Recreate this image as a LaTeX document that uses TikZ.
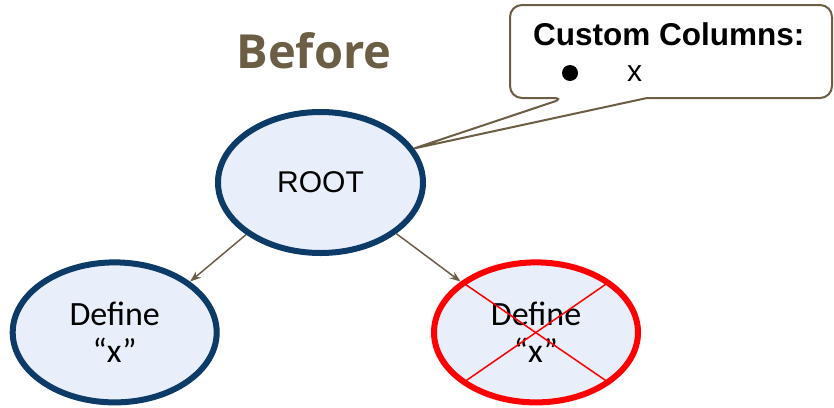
\documentclass[tikz,border=0pt]{standalone}
\usepackage{fontspec}
\setmainfont{Liberation Sans}
\newfontfamily\headfont{Open Sans}
\newfontfamily\labelfont{Carlito}
\usetikzlibrary{shapes.geometric,arrows.meta,calc}

\definecolor{treeblue}{HTML}{0B3B66}
\definecolor{treefill}{HTML}{E8EEFA}
\definecolor{taupe}{HTML}{6B5E45}
\definecolor{crossred}{HTML}{FF0000}

\tikzset{
  treenode/.style={ellipse, draw=treeblue, fill=treefill, line width=6pt,
    inner sep=0pt, minimum width=204pt, minimum height=140pt, align=center},
  deadnode/.style={treenode, draw=crossred},
  edgearrow/.style={draw=taupe, line width=1.5pt,
    -{Stealth[length=11pt, width=8pt]}},
  calloutline/.style={draw=taupe, line width=2pt, fill=white, rounded corners=12pt},
}

\begin{document}
\begin{tikzpicture}[x=1pt, y=-1pt]
  \useasboundingbox (0,0) rectangle (834,407);

  % heading
  \node[anchor=base, font=\headfont\bfseries\fontsize{47}{50}\selectfont, text=taupe]
    (title) at (314,68) {Before};

  % tree
  \node[treenode, minimum width=205pt, minimum height=141pt,
        font=\fontsize{30}{34}\selectfont] (root) at (320.5,182.5) {ROOT};
  \node[treenode, font=\labelfont\fontsize{34}{37}\selectfont]
    (left) at (114.7,332.4) {Define\\“x”};
  \node[deadnode, font=\labelfont\fontsize{34}{37}\selectfont]
    (right) at (536,332.4) {Define\\“x”};

  \draw[edgearrow] (root.215) -- (left.34);
  \draw[edgearrow] (root.-34) -- (right.146);

  % strike-through cross on the removed node
  \draw[crossred, line width=1.5pt]
    ($(right.center)+(-72,-49)$) -- ($(right.center)+(71,49)$);
  \draw[crossred, line width=1.5pt]
    ($(right.center)+(71,-49)$) -- ($(right.center)+(-71,49)$);

  % callout with its tail pointing at the root
  \coordinate (tip) at (root.20);
  \draw[calloutline]
    (565,98) [sharp corners]-- (tip) -- (647,98) [rounded corners=12pt]
    -- (832,98) -- (832,5) -- (510,5) -- (510,98) -- cycle;
  \node[anchor=base west, inner sep=0pt, font=\bfseries\fontsize{31.5}{34}\selectfont]
    (cctitle) at (533,45) {Custom Columns:};
  \node[circle, fill=black, inner sep=0pt, minimum size=16pt] (bullet) at (570,73) {};
  \node[anchor=base west, font=\fontsize{30}{34}\selectfont, inner sep=0pt]
    (ccitem) at (627,81) {x};
\end{tikzpicture}
\end{document}
